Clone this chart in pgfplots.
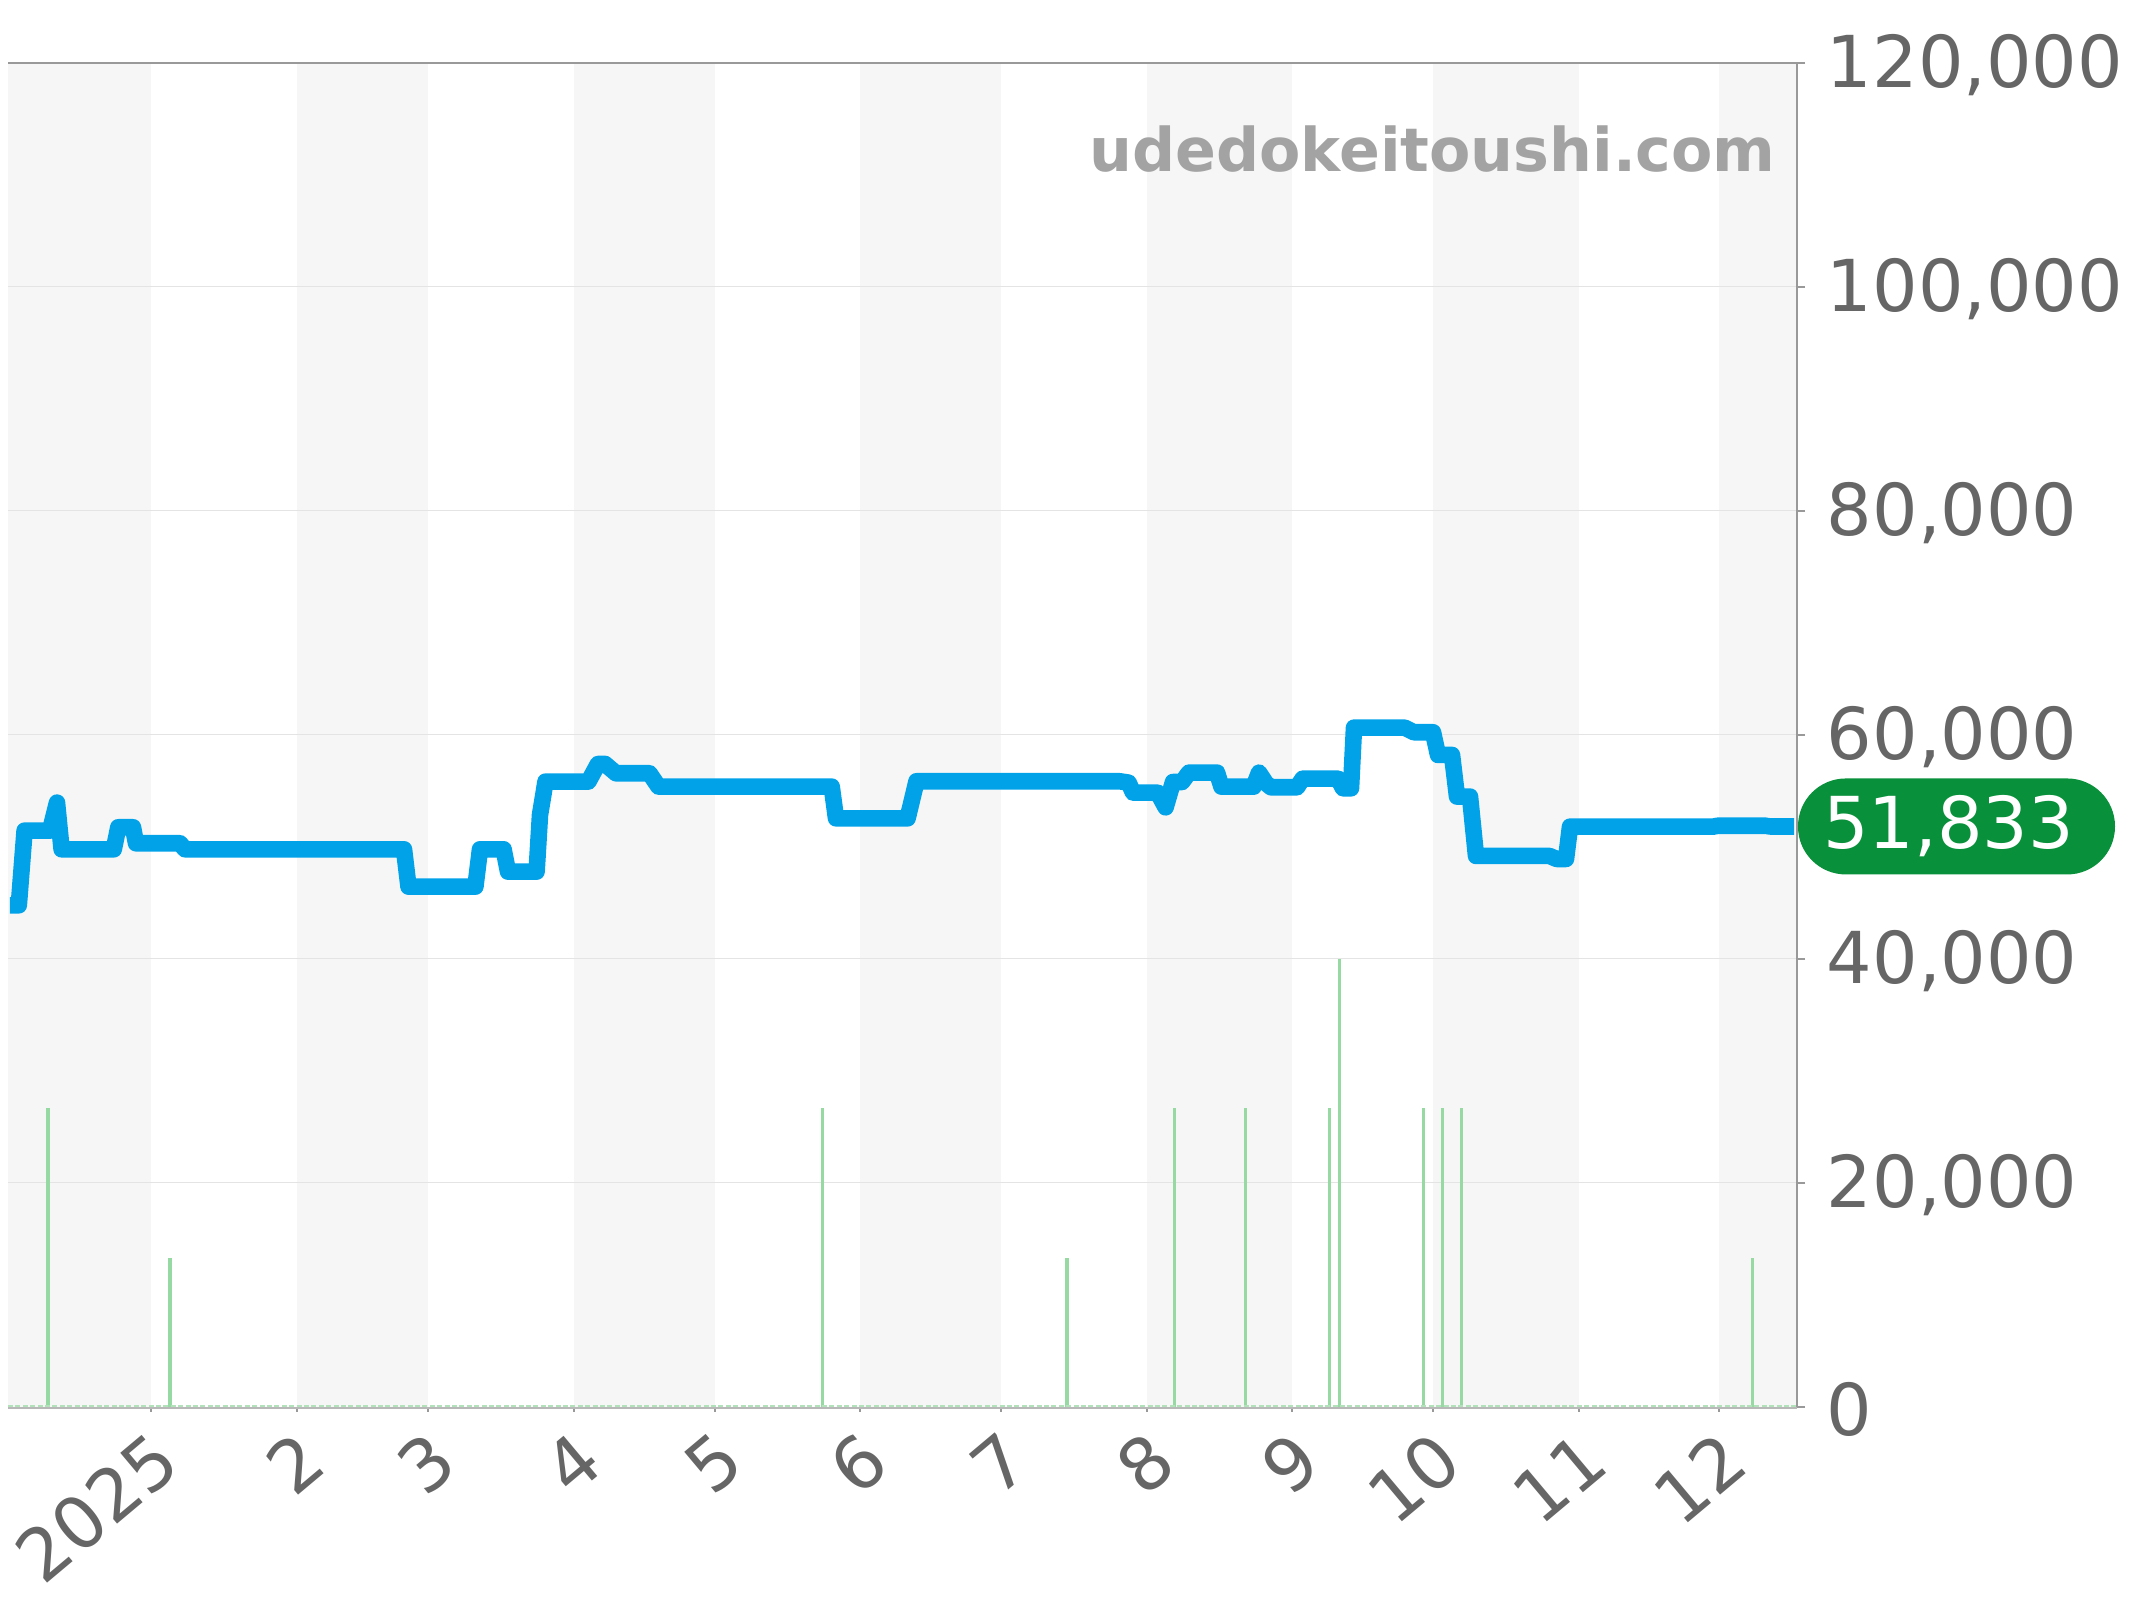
\documentclass[border=0pt]{standalone}
\usepackage{fontspec}
\setmainfont{DejaVu Sans}
\usepackage{pgfplots}
\pgfplotsset{compat=1.18}
\definecolor{bandc}{HTML}{F6F6F6}
\definecolor{gridc}{HTML}{E4E4E4}
\definecolor{axisc}{HTML}{999999}
\definecolor{labelc}{HTML}{666666}
\definecolor{linec}{HTML}{02A2E9}
\definecolor{volc}{HTML}{97D9A2}
\definecolor{pillc}{HTML}{09903B}
\definecolor{markc}{HTML}{A3A3A3}
\begin{document}
\begin{tikzpicture}
\useasboundingbox (0,0) rectangle (1072pt,800pt);
\begin{axis}[
  at={(4pt,96.5pt)}, anchor=south west,
  scale only axis, width=894.5pt, height=672pt,
  xmin=8, xmax=1797, ymin=0, ymax=120000,
  clip=false,
  axis line style={draw=none},
  xtick pos=lower, ytick pos=right, yticklabel pos=right,
  tick align=outside,
  xtick={151,297,428,574,715,860,1001,1146.7,1292.3,1433,1578.7,1719.3},
  xticklabels={2025,2,3,4,5,6,7,8,9,10,11,12},
  ytick={0,20000,40000,60000,80000,100000,120000},
  x tick style={draw=axisc,line width=1pt,/pgfplots/major tick length=2.5pt},
  y tick style={draw=axisc,line width=1pt,/pgfplots/major tick length=4pt},
  /pgf/number format/fixed,
  /pgf/number format/assume math mode=true,
  /pgf/number format/1000 sep={,},
  yticklabel style={font=\fontsize{35.8}{42}\selectfont,text=labelc,inner sep=0pt,anchor=west,xshift=10.5pt,yshift=-1.3pt},
  xticklabel style={font=\fontsize{36}{42}\selectfont,text=labelc,inner sep=0pt,rotate=40,anchor=east,xshift=-4.5pt,yshift=-17.7pt},
  scaled y ticks=false,
]
% month bands
\addplot[fill=bandc,draw=none] coordinates {(8,120000)(151,120000)(151,0)(8,0)} -- cycle;
\addplot[fill=bandc,draw=none] coordinates {(297,120000)(428,120000)(428,0)(297,0)} -- cycle;
\addplot[fill=bandc,draw=none] coordinates {(574,120000)(715,120000)(715,0)(574,0)} -- cycle;
\addplot[fill=bandc,draw=none] coordinates {(860,120000)(1001,120000)(1001,0)(860,0)} -- cycle;
\addplot[fill=bandc,draw=none] coordinates {(1146.7,120000)(1292.3,120000)(1292.3,0)(1146.7,0)} -- cycle;
\addplot[fill=bandc,draw=none] coordinates {(1433,120000)(1578.7,120000)(1578.7,0)(1433,0)} -- cycle;
\addplot[fill=bandc,draw=none] coordinates {(1719.3,120000)(1797,120000)(1797,0)(1719.3,0)} -- cycle;
% grid
\addplot[gridc,line width=0.5pt] coordinates {(8,20000)(1797,20000)};
\addplot[gridc,line width=0.5pt] coordinates {(8,40000)(1797,40000)};
\addplot[gridc,line width=0.5pt] coordinates {(8,60000)(1797,60000)};
\addplot[gridc,line width=0.5pt] coordinates {(8,80000)(1797,80000)};
\addplot[gridc,line width=0.5pt] coordinates {(8,100000)(1797,100000)};
% frame
\draw[axisc,line width=1.2pt] (axis cs:8,120000) -- (axis cs:1797,120000);
\draw[axisc,line width=1pt] (axis cs:1797,120000) -- (axis cs:1797,0);
\draw[axisc!70,line width=1pt] (axis cs:8,-60) -- (axis cs:1797,-60);
% volume
\addplot[volc,line width=1.7pt] coordinates {(48,0)(48,26667)};
\addplot[volc,line width=1.7pt] coordinates {(170,0)(170,13333)};
\addplot[volc,line width=1.7pt] coordinates {(822.3,0)(822.3,26667)};
\addplot[volc,line width=1.7pt] coordinates {(1067,0)(1067,13333)};
\addplot[volc,line width=1.7pt] coordinates {(1174.7,0)(1174.7,26667)};
\addplot[volc,line width=1.7pt] coordinates {(1245.3,0)(1245.3,26667)};
\addplot[volc,line width=1.7pt] coordinates {(1329.7,0)(1329.7,26667)};
\addplot[volc,line width=1.7pt] coordinates {(1339.3,0)(1339.3,40000)};
\addplot[volc,line width=1.7pt] coordinates {(1423.7,0)(1423.7,26667)};
\addplot[volc,line width=1.7pt] coordinates {(1442.3,0)(1442.3,26667)};
\addplot[volc,line width=1.7pt] coordinates {(1461.3,0)(1461.3,26667)};
\addplot[volc,line width=1.7pt] coordinates {(1752.3,0)(1752.3,13333)};
\addplot[volc!75,line width=1pt,dash pattern=on 2.5pt off 1.2pt] coordinates {(8,80)(1797,80)};
% price
\addplot[linec,line width=8.3pt,line join=round,line cap=butt] coordinates {
(10,44792)(18.8,44792)(24.6,51460)(50,51460)(57,53960)(61.6,49793)(113.8,49793)(118.3,51758)(133,51758)
(136,50330)(180,50330)(185,49793)(404,49793)(408.5,46460)(475.4,46460)(480,49793)(503.6,49793)(508,47800)
(536.6,47800)(540,52860)(545.5,55835)(588.4,55835)(598,57415)(605,57415)(616,56580)(649.5,56580)(658.5,55390)
(831.7,55390)(836,52560)(907.6,52560)(916.5,55867)(1119.6,55867)(1128.6,55745)(1133,54853)(1157.6,54853)
(1165.6,53545)(1173,55800)(1182,55800)(1189,56640)(1217,56640)(1221.4,55390)(1253.6,55390)(1259,56640)
(1266,55690)(1271,55330)(1297,55330)(1302.7,56100)(1338,56100)(1343,55240)(1351,55240)(1354,60655)
(1404.7,60655)(1414,60240)(1433,60240)(1438,58218)(1452,58218)(1457,54500)(1470,54500)(1476,49200)
(1549.5,49200)(1556.6,48930)(1566,48930)(1570,51815)(1713,51815)(1718,51900)(1765,51900)(1770,51833)(1794,51833)};
% texts
\node[anchor=base east,inner sep=0pt,text=markc,font=\fontsize{30.1}{36}\selectfont\bfseries] at (axis cs:1776,110270) {udedokeitoushi.com};
\node[fill=pillc,text=white,rounded corners=23.9pt,minimum width=158.5pt,minimum height=48pt,inner sep=0pt,font=\fontsize{35.8}{42}\selectfont] at (axis cs:1956.5,51833) {\raisebox{-2pt}{51,833}\hspace*{8pt}};
\end{axis}
\end{tikzpicture}
\end{document}
